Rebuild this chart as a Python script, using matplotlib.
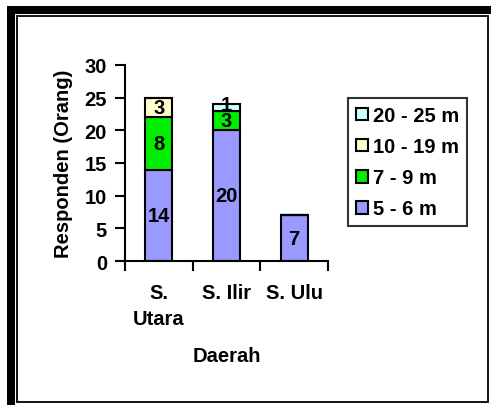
import matplotlib.pyplot as plt
from matplotlib.patches import Rectangle
import numpy as np

plt.rcParams['font.family'] = ['Liberation Sans', 'DejaVu Sans']
plt.rcParams['font.weight'] = 'bold'

daerah = ["S.\nUtara", "S. Ilir", "S. Ulu"]
kelas = ["5 - 6 m", "7 - 9 m", "10 - 19 m", "20 - 25 m"]
v_5_6 = [14, 20, 7]
v_7_9 = [8, 3, 0]
v_10_19 = [3, 0, 0]
v_20_25 = [0, 1, 0]
warna = ["#9999FF", "#00EE00", "#FFFFCC", "#CCFFFF"]

W, H = 491, 406
fs = 14.5
fig = plt.figure(figsize=(W / 100, H / 100), dpi=100)

# frame around the chart
def px_rect(x0, y0, x1, y1, **kw):
    fig.patches.append(Rectangle((x0 / W, 1 - y1 / H), (x1 - x0) / W, (y1 - y0) / H,
                                 transform=fig.transFigure, **kw))

px_rect(7, 7, 14.5, 406, facecolor="black", edgecolor="none")
px_rect(7, 7, 491, 14.5, facecolor="black", edgecolor="none")
px_rect(16.5, 16.5, 488, 402.5, facecolor="none", edgecolor="black", linewidth=1.3)

ax = fig.add_axes([125 / W, 1 - 262 / H, (328 - 125) / W, (262 - 66) / H])

x = np.arange(len(daerah))
series = [v_5_6, v_7_9, v_10_19, v_20_25]
bottom = np.zeros(len(daerah))
bars = []
for vals, c, lab in zip(series, warna, kelas):
    b = ax.bar(x, vals, 0.4, bottom=bottom, color=c, edgecolor="black", linewidth=1.5, label=lab)
    bars.append(b)
    for xi, v, bt in zip(x, vals, bottom):
        if v > 0:
            yy = bt + v / 2 + (0.5 if v == 1 else 0)
            ax.text(xi, yy, str(v), ha="center", va="center", fontsize=fs, fontweight="bold")
    bottom = bottom + np.array(vals)

ax.set_xlim(-0.5, 2.5)
ax.set_ylim(0, 30)
ax.set_yticks(range(0, 31, 5))
ax.set_xticks(x)
ax.set_xticklabels(daerah, fontsize=fs, fontweight="bold", linespacing=1.45, va="top")
ax.set_xticks([-0.5, 0.5, 1.5, 2.5], minor=True)
ax.tick_params(axis="x", which="major", length=0, pad=16)
ax.tick_params(axis="x", which="minor", length=7, width=1.5, direction="out")
ax.tick_params(axis="y", length=7, width=1.5, labelsize=fs, pad=6)
for lab in ax.get_yticklabels():
    lab.set_fontweight("bold")

for s in ["top", "right"]:
    ax.spines[s].set_visible(False)
for s in ["left", "bottom"]:
    ax.spines[s].set_linewidth(1.5)

ax.set_ylabel("Responden (Orang)", fontsize=fs, fontweight="bold", labelpad=8)
ax.set_xlabel("Daerah", fontsize=fs, fontweight="bold", labelpad=13)

handles = bars[::-1]
leg = fig.legend(handles, kelas[::-1], loc="upper left",
                 bbox_to_anchor=(348 / W, 1 - 99 / H), fontsize=fs,
                 frameon=True, fancybox=False, edgecolor="black",
                 handlelength=0.6, handleheight=0.6, handletextpad=0.25,
                 borderpad=0.4, labelspacing=0.6, borderaxespad=0)
leg.get_frame().set_linewidth(1.5)

fig.savefig("out.png", dpi=100, facecolor="white")
